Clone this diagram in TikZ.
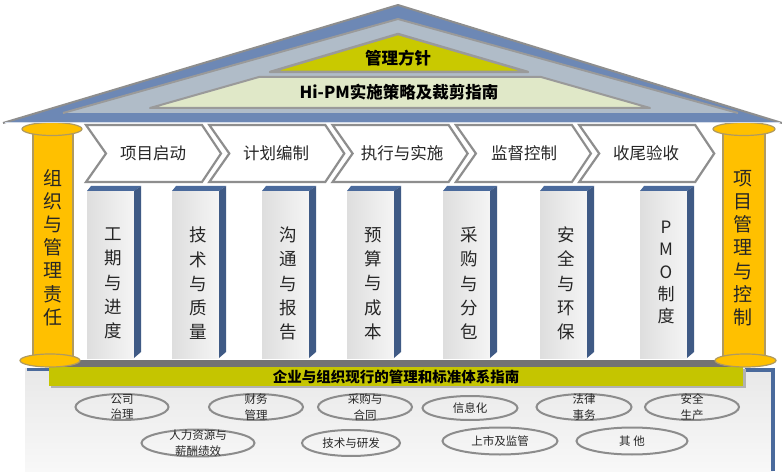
\documentclass[tikz,border=0pt]{standalone}
\usepackage{fontspec}
\setmainfont{Noto Sans CJK SC}
\usetikzlibrary{shapes.geometric}
\definecolor{roofblue}{HTML}{6D88B5}
\definecolor{roofedge}{HTML}{8E8E8E}
\definecolor{roofinner}{HTML}{B0BCC8}
\definecolor{roofline}{HTML}{9A9A9A}
\definecolor{roofyellow}{HTML}{C9C900}
\definecolor{roofgreen}{HTML}{E0E8C8}
\definecolor{pillarfill}{HTML}{FFC000}
\definecolor{pillaredge}{HTML}{B09A60}
\definecolor{colblue}{HTML}{4A6A9C}
\definecolor{colface}{HTML}{DEDEDE}
\definecolor{barolive}{HTML}{C5C500}
\definecolor{ellgray}{HTML}{8C8C8C}
\definecolor{txtdark}{HTML}{262626}
\definecolor{basetop}{HTML}{E8E8E8}
\definecolor{basebot}{HTML}{F8F8F8}
\tikzset{
  chevronshape/.style={fill=white, draw=roofedge, line width=2.2pt, line join=miter},
  chevtext/.style={font=\fontsize{16.5}{20}\selectfont, text=txtdark, inner sep=0pt},
  coltext/.style={font=\fontsize{17.5}{24.3}\selectfont, text=txtdark, align=center, inner sep=0pt},
  pillartext/.style={font=\fontsize{19}{23.2}\selectfont, text=txtdark, align=center, inner sep=0pt},
  rooftext/.style={font=\bfseries\fontsize{16.5}{20}\selectfont, text=black, inner sep=0pt},
  pillarbody/.style={fill=pillarfill, draw=pillaredge, line width=1.2pt},
  ell/.style={ellipse, draw=ellgray, line width=2pt, inner sep=0pt},
  elltext/.style={font=\fontsize{11.5}{15.5}\selectfont, text=txtdark, align=center, inner sep=0pt},
}
\begin{document}
\begin{tikzpicture}[x=1pt,y=-1pt]
\useasboundingbox (0,0) rectangle (782,473);
\fill[white] (0,0) rectangle (782,473);

% ---------- base ----------
\shade[top color=basetop, bottom color=basebot] (25,368) rectangle (773,471);
\fill[colblue] (771,368) rectangle (775,471);
\fill[colblue] (745,368) rectangle (775,372);
\fill[colblue] (27,368) rectangle (50,371);
\fill[black!55] (60,360) rectangle (735,366.5);
\fill[black!30] (51,369) rectangle (746,388);
\node[fill=barolive, minimum width=694pt, minimum height=19pt, inner sep=0pt,
      font=\bfseries\fontsize{14.5}{16}\selectfont] (bar) at (396,376.5) {企业与组织现行的管理和标准体系指南};

% ellipses
\node[ell, minimum width=93pt, minimum height=26pt] (e1) at (122,407) {};
\node[elltext] (t1) at (e1) {公司\\治理};
\node[ell, minimum width=94pt, minimum height=26pt] (e2) at (256,407) {};
\node[elltext] (t2) at (e2) {财务\\管理};
\node[ell, minimum width=94pt, minimum height=26pt] (e3) at (365,407) {};
\node[elltext] (t3) at (e3) {采购与\\合同};
\node[ell, minimum width=95pt, minimum height=24pt] (e4) at (470,408) {};
\node[elltext] (t4) at (e4) {信息化};
\node[ell, minimum width=95pt, minimum height=26pt] (e5) at (584,407) {};
\node[elltext] (t5) at (e5) {法律\\事务};
\node[ell, minimum width=94pt, minimum height=26pt] (e6) at (692,407) {};
\node[elltext] (t6) at (e6) {安全\\生产};
\node[ell, minimum width=113pt, minimum height=27pt] (e7) at (198,443) {};
\node[elltext] (t7) at (e7) {人力资源与\\薪酬绩效};
\node[ell, minimum width=98pt, minimum height=26pt] (e8) at (351,443) {};
\node[elltext] (t8) at (e8) {技术与研发};
\node[ell, minimum width=115pt, minimum height=27pt] (e9) at (500,441) {};
\node[elltext] (t9) at (e9) {上市及监管};
\node[ell, minimum width=111pt, minimum height=27pt] (e10) at (632,441) {};
\node[elltext] (t10) at (e10) {其 他};

% ---------- columns ----------
\foreach \X/\txt/\nm in {87/{工\\期\\与\\进\\度}/c1, 172/{技\\术\\与\\质\\量}/c2,
                         262/{沟\\通\\与\\报\\告}/c3, 347/{预\\算\\与\\成\\本}/c4,
                         443/{采\\购\\与\\分\\包}/c5, 540/{安\\全\\与\\环\\保}/c6}{
  \shade[left color=colface, right color=black!4] (\X,191) rectangle (\X+47,358);
  \fill[colblue] (\X,191) -- (\X+4,186) -- (\X+54,186) -- (\X+47,191) -- cycle;
  \fill[colblue!85!black] (\X+47,191) -- (\X+54,186) -- (\X+54,352) -- (\X+47,358) -- cycle;
  \node[coltext] (\nm) at (\X+26,283.5) {\txt};
}
\shade[left color=colface, right color=black!4] (640,191) rectangle (687,358);
\fill[colblue] (640,191) -- (644,186) -- (694,186) -- (687,191) -- cycle;
\fill[colblue!85!black] (687,191) -- (694,186) -- (694,352) -- (687,358) -- cycle;
\node[coltext, font=\fontsize{17}{22.2}\selectfont] (c7) at (666,272.5) {P\\M\\O\\制\\度};

% ---------- chevrons ----------
\foreach \L/\txt/\nm/\tx in {86/项目启动/s1/153, 209.3/计划编制/s2/276, 332.6/执行与实施/s3/402,
                             455.9/监督控制/s4/524, 579.2/收尾验收/s5/646}{
  \draw[chevronshape] (\L,125) -- (\L+116,125) -- (\L+135,153.5) -- (\L+116,182)
        -- (\L,182) -- (\L+20,153.5) -- cycle;
  \node[chevtext] (\nm) at (\tx,153) {\txt};
}

% ---------- pillars ----------
\draw[pillarbody] (33,133) rectangle (73,357);
\draw[pillarbody] (52,129) ellipse (30 and 6.5);
\draw[pillarbody] (50,360.5) ellipse (30 and 6.5);
\node[pillartext] (pl) at (53,247.5) {组\\织\\与\\管\\理\\责\\任};
\draw[pillarbody] (723,133) rectangle (765,357);
\draw[pillarbody] (744,129) ellipse (31 and 6.5);
\draw[pillarbody] (745.5,360.5) ellipse (30.5 and 6.5);
\node[pillartext] (pr) at (743,248) {项\\目\\管\\理\\与\\控\\制};

% ---------- roof ----------
\fill[roofblue] (3,123) -- (398,5) -- (782,123) -- cycle;
\draw[roofedge, line width=2pt, line join=round] (3,123) -- (398,5) -- (782,123);
\draw[white!70!roofblue, line width=1pt] (5,122.5) -- (780,122.5);
\fill[roofinner] (63,113) -- (398,19) -- (738,113) -- cycle;
\draw[roofline, line width=2pt, line join=round] (63,113) -- (398,19) -- (738,113);
\filldraw[fill=roofgreen, draw=roofline, line width=2pt, line join=round]
   (150,108) -- (259,77) -- (541,77) -- (650,108) -- cycle;
\filldraw[fill=roofyellow, draw=roofline, line width=2.5pt, line join=round]
   (270,72) -- (398,34) -- (528,72) -- cycle;
\node[rooftext] (mgmt) at (398,58) {管理方针};
\node[rooftext] (hipm) at (399,92.5) {Hi-PM实施策略及裁剪指南};
\end{tikzpicture}
\end{document}
